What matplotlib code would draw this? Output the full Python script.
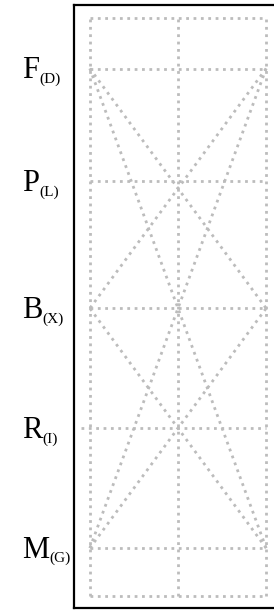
import matplotlib
matplotlib.use("Agg")
import matplotlib.pyplot as plt
import matplotlib.transforms as mtransforms

# Row labels (top to bottom) and their vertical positions
row_names = ["F", "P", "B", "R", "M"]
row_subs = ["(D)", "(L)", "(X)", "(I)", "(G)"]
row_y = [4.0, 3.06, 2.0, 1.0, 0.0]

# Column positions (left, centre, right)
col_x = [0.0, 1.0, 2.0]

# Outer dotted frame extent
frame_y = [-0.40, 4.42]

# Diagonal connections: (row_from, col_from, row_to, col_to)
links = [
    ("F", 0, "B", 1), ("F", 2, "B", 1),
    ("F", 0, "B", 2), ("F", 2, "B", 0),
    ("M", 0, "B", 1), ("M", 2, "B", 1),
    ("M", 0, "B", 2), ("M", 2, "B", 0),
]

# horizontal line start (R row reaches a little further left)
row_start = {"F": 0.0, "P": 0.0, "B": 0.0, "R": -0.1, "M": 0.0}

grey = "#bcbcbc"
dot = dict(color=grey, linestyle=":", linewidth=2.0)

fig = plt.figure(figsize=(2.74, 6.10), dpi=100)
ax = fig.add_axes([74 / 274, 2 / 610, 208 / 274, 603 / 610])

ypos = dict(zip(row_names, row_y))

# frame + vertical guides
for x in col_x:
    ax.plot([x, x], frame_y, **dot)
for y in frame_y:
    ax.plot([col_x[0], col_x[-1]], [y, y], **dot)

# horizontal row lines
for name in row_names:
    ax.plot([row_start[name], col_x[-1]], [ypos[name], ypos[name]], **dot)

# diagonals
for r0, c0, r1, c1 in links:
    ax.plot([col_x[c0], col_x[c1]], [ypos[r0], ypos[r1]], **dot)

ax.set_xlim(-0.18, 2.18)
ax.set_ylim(-0.5, 4.53)
ax.set_xticks([])
ax.set_yticks([])
for side in ["left", "top", "bottom"]:
    ax.spines[side].set_linewidth(1.6)
ax.spines["right"].set_visible(False)

# row labels: large letter with a small bracketed subscript
trans = mtransforms.blended_transform_factory(ax.transAxes, ax.transData)
for name, sub, y in zip(row_names, row_subs, row_y):
    main = ax.annotate(name, xy=(0, y), xycoords=trans,
                       xytext=(-37.4, -7.0), textcoords="offset points",
                       ha="left", va="baseline", fontsize=22,
                       family="Liberation Serif", annotation_clip=False)
    ax.annotate(sub, xy=(1, 0), xycoords=main, xytext=(0, -0.5),
                textcoords="offset points", ha="left", va="bottom",
                fontsize=11, family="Liberation Serif", annotation_clip=False)

fig.savefig("out.png", dpi=100)
